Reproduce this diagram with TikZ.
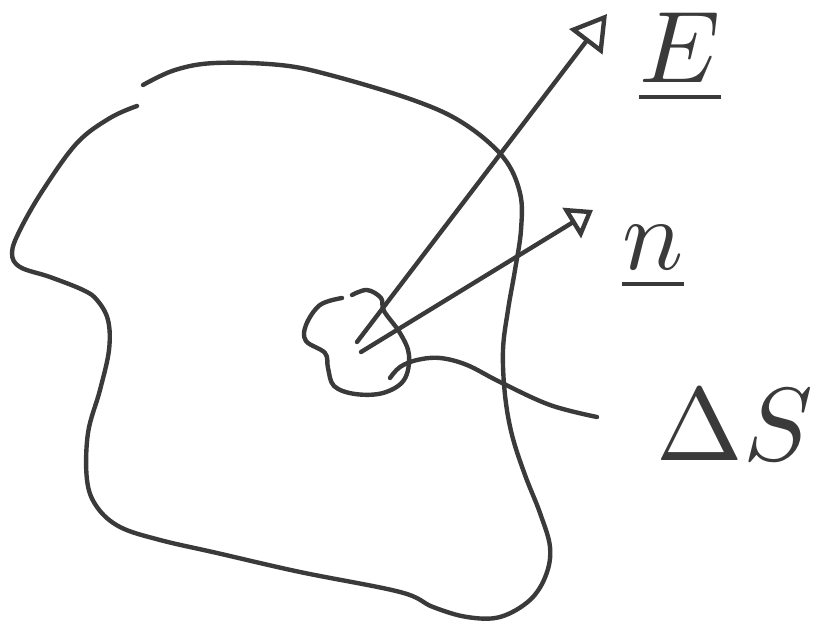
\documentclass[tikz,border=0pt]{standalone}
\usetikzlibrary{arrows.meta}
\definecolor{inchiostro}{HTML}{3A3A3A}

\begin{document}
\begin{tikzpicture}[
    x=0.02cm, y=-0.02cm,
    tratto/.style={draw=inchiostro, line width=2.5pt, line cap=round, line join=round},
    vettore/.style={tratto},
    etichetta/.style={text=inchiostro, inner sep=0pt, scale=5.8}
]
    \useasboundingbox (0,0) rectangle (816,625);

    % 1. Superficie (contorno aperto in alto a sinistra)
    \draw[tratto] plot[smooth, tension=0.6] coordinates {
        (143,85) (175,70) (215,63) (280,65) (330,75) (413,100) (463,123)
        (503,157) (520,193) (521,230) (515,270) (508,310) (503,350)
        (505,395) (512,435) (525,475) (540,513) (550,547) (546,575)
        (530,600) (500,617) (467,617) (433,607) (400,592) (300,572)
        (217,553) (160,540) (120,527) (97,507) (87,480) (88,433)
        (100,390) (109,350) (108,320) (97,300) (83,290) (50,277)
        (20,267) (12,253) (20,230) (43,190) (77,143) (110,118) (137,106)};

    % 2. Elemento di superficie
    \draw[tratto] plot[smooth, tension=0.6] coordinates {
        (352,295) (367,290) (381,298) (384,311) (400,333) (409,355)
        (404,380) (383,393) (355,394) (334,386) (328,368) (325,353)
        (306,341) (306,325) (320,305) (342,298)};

    % 3. Punti di applicazione e etichette
    \coordinate (pE) at (357,342);
    \coordinate (pN) at (361,352);
    \coordinate (tE) at (607,14);
    \coordinate (tN) at (593,210);
    \node[etichetta] (E) at (680,58) {$\underline{E}$};
    \node[etichetta] (N) at (653,258) {$\underline{n}$};
    \node[etichetta, scale=1.02] (dS) at (735,425) {$\Delta S$};

    % 4. Vettori
    \draw[vettore, -{Triangle[open, length=0.7cm, width=0.82cm]}] (pE) -- (tE);
    \draw[vettore, -{Triangle[open, length=0.5cm, width=0.7cm]}] (pN) -- (tN);

    % 5. Richiamo verso l'etichetta
    \draw[tratto] plot[smooth, tension=0.6] coordinates {
        (390,378) (400,367) (417,360) (440,358) (467,365) (500,382)
        (550,405) (597,417)};

\end{tikzpicture}
\end{document}
